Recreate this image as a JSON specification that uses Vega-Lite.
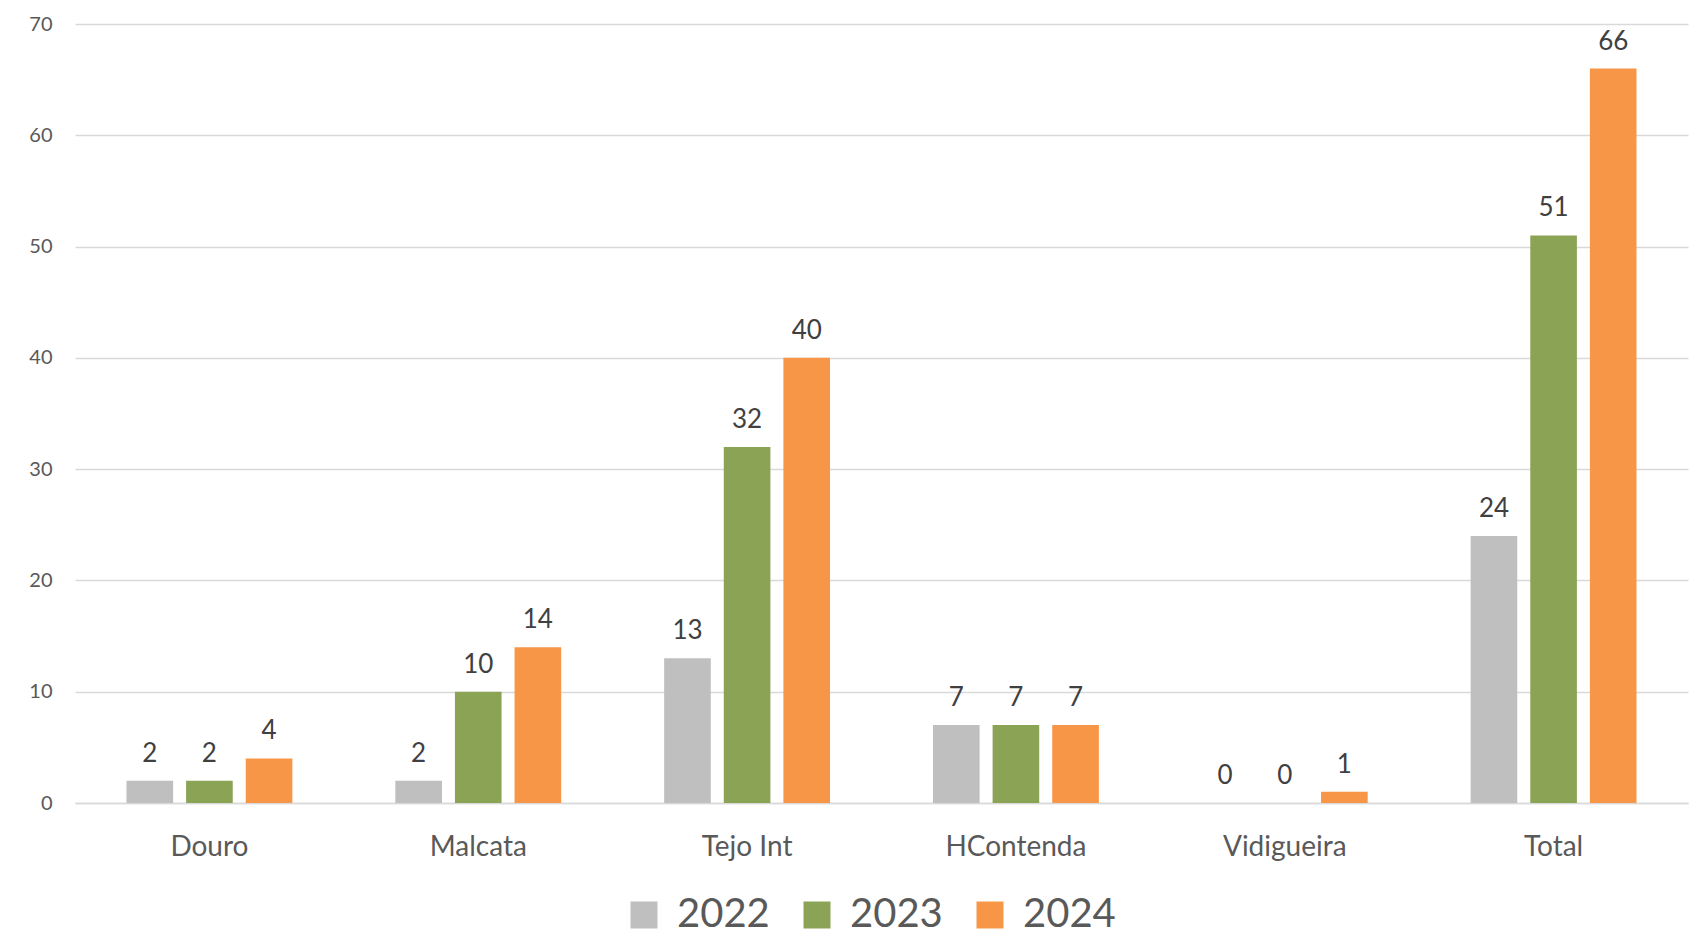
{
  "$schema": "https://vega.github.io/schema/vega-lite/v6.json",
  "width": 1613,
  "height": 779,
  "autosize": {"type": "none"},
  "padding": {"left": 75, "top": 24, "right": 11, "bottom": 134},
  "background": "white",
  "config": {"view": {"stroke": null}, "font": "Lato"},
  "data": {"values": [
    {"site": "Douro", "year": "2022", "value": 2},
    {"site": "Douro", "year": "2023", "value": 2},
    {"site": "Douro", "year": "2024", "value": 4},
    {"site": "Malcata", "year": "2022", "value": 2},
    {"site": "Malcata", "year": "2023", "value": 10},
    {"site": "Malcata", "year": "2024", "value": 14},
    {"site": "Tejo Int", "year": "2022", "value": 13},
    {"site": "Tejo Int", "year": "2023", "value": 32},
    {"site": "Tejo Int", "year": "2024", "value": 40},
    {"site": "HContenda", "year": "2022", "value": 7},
    {"site": "HContenda", "year": "2023", "value": 7},
    {"site": "HContenda", "year": "2024", "value": 7},
    {"site": "Vidigueira", "year": "2022", "value": 0},
    {"site": "Vidigueira", "year": "2023", "value": 0},
    {"site": "Vidigueira", "year": "2024", "value": 1},
    {"site": "Total", "year": "2022", "value": 24},
    {"site": "Total", "year": "2023", "value": 51},
    {"site": "Total", "year": "2024", "value": 66}
  ]},
  "encoding": {
    "x": {
      "field": "site", "type": "nominal", "sort": null,
      "scale": {"paddingInner": 0.383, "paddingOuter": 0.1915},
      "axis": {
        "title": null, "labelAngle": 0, "ticks": false, "tickSize": 0,
        "labelPadding": 30, "labelFont": "Lato", "labelFontSize": 28,
        "labelColor": "#595959", "domainColor": "#d9d9d9", "domainWidth": 1.5,
        "grid": false
      }
    },
    "xOffset": {
      "field": "year", "type": "nominal",
      "scale": {"paddingInner": 0.218, "paddingOuter": 0}
    },
    "y": {
      "field": "value", "type": "quantitative",
      "scale": {"domain": [0, 70], "nice": false},
      "axis": {
        "title": null, "values": [0, 10, 20, 30, 40, 50, 60, 70],
        "ticks": false, "tickSize": 0, "domain": false,
        "labelPadding": 23, "labelFont": "Lato", "labelFontSize": 20,
        "labelColor": "#595959", "gridColor": "#d9d9d9", "gridWidth": 1.5
      }
    }
  },
  "layer": [
    {
      "mark": {"type": "bar"},
      "encoding": {
        "color": {
          "field": "year", "type": "nominal",
          "scale": {"domain": ["2022", "2023", "2024"], "range": ["#bfbfbf", "#8aa355", "#f79646"]},
          "legend": {
            "title": null, "orient": "none", "direction": "horizontal",
            "legendX": 549, "legendY": 871,
            "symbolType": "square", "symbolSize": 729, "symbolStrokeWidth": 0,
            "symbolOpacity": 1,
            "labelFont": "Lato", "labelFontSize": 40, "labelColor": "#595959",
            "labelOffset": 13, "columnPadding": 27, "padding": 0
          }
        }
      }
    },
    {
      "mark": {"type": "text", "baseline": "alphabetic", "dy": -19, "font": "Lato", "fontSize": 26, "color": "#404040"},
      "encoding": {"text": {"field": "value", "type": "quantitative"}}
    }
  ]
}
